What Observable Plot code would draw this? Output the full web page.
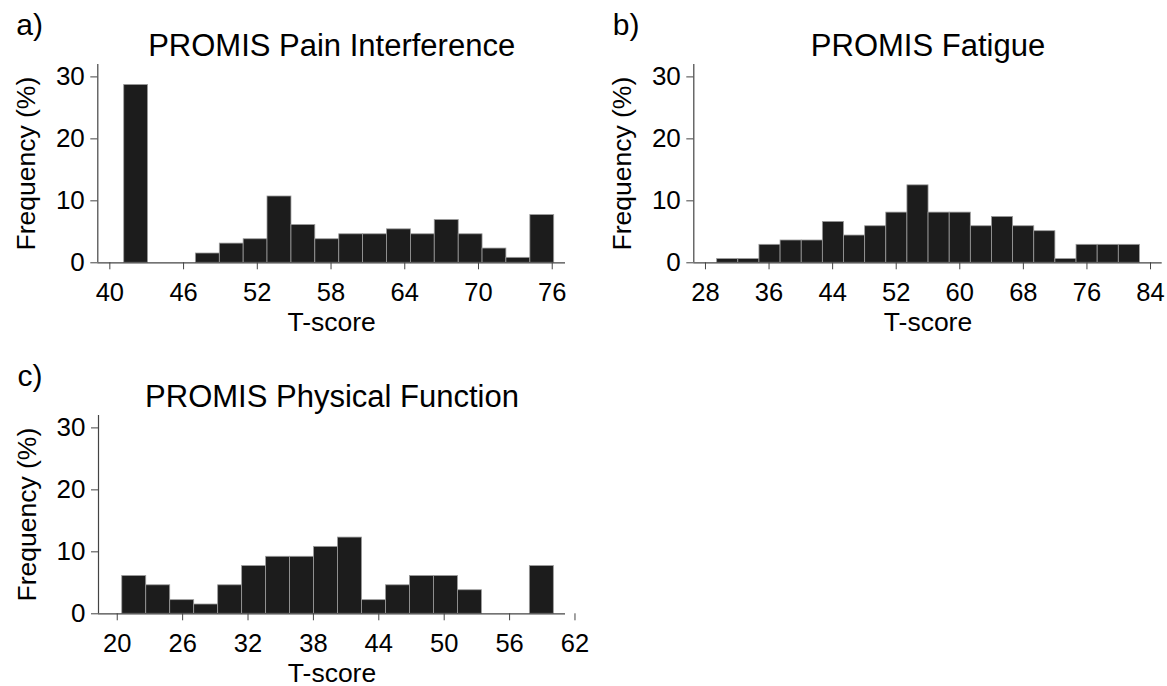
<!DOCTYPE html>
<html><head><meta charset="utf-8">
<script src="https://cdn.jsdelivr.net/npm/d3@7"></script>
<script src="https://cdn.jsdelivr.net/npm/@observablehq/plot@0.6"></script>
<style>
body{margin:0;background:#fff;width:1167px;height:686px;overflow:hidden;font-family:"Liberation Sans",Arial,sans-serif;}
#wrap{position:relative;width:1167px;height:686px;}
.panel{position:absolute;}
.panel svg{overflow:visible;}
</style></head><body><div id="wrap"></div>
<script>
// ---- data (T-score bin edges and frequency %) ----
const yTicks = [0, 10, 20, 30];

const painTitle = "PROMIS Pain Interference";
const painEdges = [41.17, 43.11, 45.06, 47.00, 48.95, 50.89, 52.83, 54.78, 56.72, 58.67, 60.61, 62.55, 64.50, 66.44, 68.39, 70.33, 72.27, 74.22, 76.16];
const painFreq = [28.7, 0, 0, 1.5, 3.1, 3.8, 10.7, 6.1, 3.8, 4.6, 4.6, 5.4, 4.6, 6.9, 4.6, 2.3, 0.8, 7.7];
const painTicks = [40, 46, 52, 58, 64, 70, 76];

const fatigueTitle = "PROMIS Fatigue";
const fatigueEdges = [29.47, 32.13, 34.79, 37.45, 40.11, 42.77, 45.43, 48.09, 50.75, 53.41, 56.07, 58.73, 61.39, 64.05, 66.71, 69.37, 72.03, 74.69, 77.35, 80.01, 82.67];
const fatigueFreq = [0.6, 0.6, 2.9, 3.6, 3.6, 6.6, 4.4, 5.9, 8.1, 12.5, 8.1, 8.1, 5.9, 7.4, 5.9, 5.1, 0.6, 2.9, 2.9, 2.9];
const fatigueTicks = [28, 36, 44, 52, 60, 68, 76, 84];

const physTitle = "PROMIS Physical Function";
const physEdges = [20.46, 22.66, 24.86, 27.06, 29.26, 31.46, 33.66, 35.86, 38.06, 40.26, 42.46, 44.66, 46.86, 49.06, 51.26, 53.46, 55.66, 57.86, 60.06];
const physFreq = [6.1, 4.6, 2.2, 1.5, 4.6, 7.7, 9.2, 9.2, 10.8, 12.3, 2.2, 4.6, 6.1, 6.1, 3.8, 0, 0, 7.7];
const physTicks = [20, 26, 32, 38, 44, 50, 56, 62];

const FONT = "'Liberation Sans', Arial, sans-serif";
const AXIS = "#444";

function panel({edges, freq, xDomain, xTicks, title, letter, width, marginLeft, marginRight, letterDx}) {
  const bins = freq.map((f, i) => ({x1: edges[i], x2: edges[i + 1], y: f})).filter(d => d.y > 0);
  return Plot.plot({
    width, height: 345,
    marginLeft, marginRight, marginTop: 64, marginBottom: 82.7,
    style: {fontFamily: FONT, color: "#000", background: "transparent", overflow: "visible"},
    x: {domain: xDomain},
    y: {domain: [0, 32]},
    marks: [
      Plot.rectY(bins, {x1: "x1", x2: "x2", y: "y", fill: "#1c1c1c", stroke: "#9c9c9c", strokeWidth: 0.8}),
      Plot.ruleX([xDomain[0]], {stroke: AXIS, strokeWidth: 1.2}),
      Plot.ruleY([0], {stroke: AXIS, strokeWidth: 1.2}),
      Plot.axisY({ticks: yTicks, tickSize: 7, tickPadding: 6, fontSize: 26, label: null, stroke: AXIS, tickFormat: d => String(d)}),
      Plot.axisX({ticks: xTicks, tickSize: 7, tickPadding: 13, fontSize: 25.5, label: null, stroke: AXIS, tickFormat: d => String(d)}),
      Plot.text(["T-score"], {frameAnchor: "bottom", dy: 68, textAnchor: "middle", lineAnchor: "bottom", fontSize: 26.5}),
      Plot.text(["Frequency (%)"], {frameAnchor: "left", dx: -71, rotate: -90, textAnchor: "middle", lineAnchor: "middle", fontSize: 26.5}),
      Plot.text([title], {frameAnchor: "top", dy: -9, textAnchor: "middle", lineAnchor: "bottom", fontSize: 31}),
      Plot.text([letter], {frameAnchor: "top-left", dx: letterDx, dy: -30, textAnchor: "start", lineAnchor: "bottom", fontSize: 30})
    ]
  });
}

const wrap = document.getElementById("wrap");
function place(node, left, top) {
  const d = document.createElement("div");
  d.className = "panel";
  d.style.left = left + "px";
  d.style.top = top + "px";
  d.appendChild(node);
  wrap.appendChild(d);
}

place(panel({edges: painEdges, freq: painFreq, xDomain: [39.02, 77.08], xTicks: painTicks,
  title: painTitle, letter: "a)", width: 600, marginLeft: 97.3, marginRight: 35, letterDx: -81.5}), 0, 0);

place(panel({edges: fatigueEdges, freq: fatigueFreq, xDomain: [26.53, 85.47], xTicks: fatigueTicks,
  title: fatigueTitle, letter: "b)", width: 567, marginLeft: 93.3, marginRight: 5.3, letterDx: -81}), 600, 0);

place(panel({edges: physEdges, freq: physFreq, xDomain: [18.28, 61.13], xTicks: physTicks,
  title: physTitle, letter: "c)", width: 600, marginLeft: 98, marginRight: 35, letterDx: -81}), 0, 351);
</script>
</body></html>
